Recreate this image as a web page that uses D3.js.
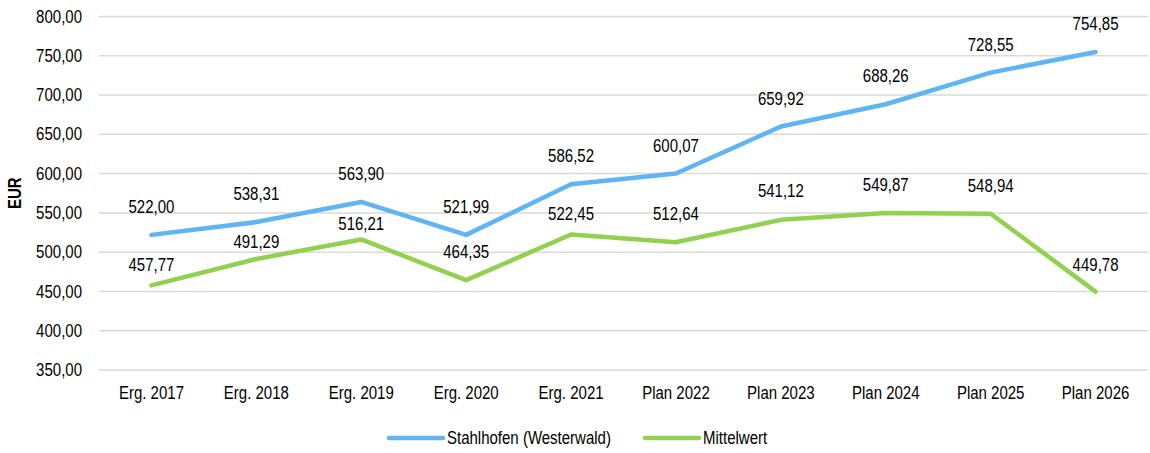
<!DOCTYPE html>
<html>
<head>
<meta charset="utf-8">
<script src="https://cdn.jsdelivr.net/npm/d3@7"></script>
<style>
  body { margin: 0; background: #fff; }
  svg { display: block; font-family: "Liberation Sans", Arial, sans-serif; }
</style>
</head>
<body>
<div id="container"></div>
<script>
// chart data
const categories = ["Erg. 2017", "Erg. 2018", "Erg. 2019", "Erg. 2020", "Erg. 2021",
  "Plan 2022", "Plan 2023", "Plan 2024", "Plan 2025", "Plan 2026"];
const stahlhofen = [522.00, 538.31, 563.90, 521.99, 586.52, 600.07, 659.92, 688.26, 728.55, 754.85];
const mittelwert = [457.77, 491.29, 516.21, 464.35, 522.45, 512.64, 541.12, 549.87, 548.94, 449.78];
const yTicks = [350, 400, 450, 500, 550, 600, 650, 700, 750, 800];
const seriesNames = ["Stahlhofen (Westerwald)", "Mittelwert"];

const width = 1150;
const height = 453;
const margin = { top: 16.5, right: 2, bottom: 83, left: 99 };

const fontSize = 17.5;
const squeeze = 0.857; // the original text is a bit narrower than Arial

const colors = ["#5fb4f4", "#92d050"];
// how far above the point each label sits (some green labels were nudged down in the original)
const labelLift = [
  [28, 28, 28, 28, 28, 28, 28, 28, 28, 28],
  [20, 17.5, 16, 28, 21, 28, 29, 28, 28, 27]
];

const fmt = v => d3.format(".2f")(v).replace(".", ",");

const svg = d3.select("#container")
  .append("svg")
  .attr("width", width)
  .attr("height", height);

const x = d3.scaleBand()
  .domain(categories)
  .range([margin.left, width - margin.right]);

const y = d3.scaleLinear()
  .domain([350, 800])
  .range([height - margin.bottom, margin.top]);

// gridlines
svg.append("g")
  .selectAll("line")
  .data(yTicks)
  .join("line")
  .attr("x1", margin.left)
  .attr("x2", width - margin.right)
  .attr("y1", d => y(d))
  .attr("y2", d => y(d))
  .attr("stroke", "#d9d9d9")
  .attr("stroke-width", 1.5);

// y axis labels
svg.append("g")
  .attr("transform", `translate(${margin.left}, 0)`)
  .call(d3.axisLeft(y).tickValues(yTicks).tickFormat(fmt).tickSize(0).tickPadding(17))
  .call(g => g.select(".domain").remove())
  .call(g => g.selectAll("text").attr("font-size", fontSize).attr("fill", "#000")
    .attr("font-family", "Liberation Sans, Arial, sans-serif"));

// x axis labels
svg.append("g")
  .attr("transform", `translate(0, ${height - margin.bottom})`)
  .call(d3.axisBottom(x).tickSize(0).tickPadding(16.5))
  .call(g => g.select(".domain").remove())
  .call(g => g.selectAll("text").attr("font-size", fontSize).attr("fill", "#000")
    .attr("font-family", "Liberation Sans, Arial, sans-serif"));

// axis title
svg.append("text")
  .attr("transform", `translate(21, ${(y(350) + y(800)) / 2}) rotate(-90)`)
  .attr("text-anchor", "middle")
  .attr("font-size", fontSize)
  .attr("font-weight", "bold")
  .text("EUR");

const line = d3.line()
  .x((d, i) => x(categories[i]) + x.bandwidth() / 2)
  .y(d => y(d));

[stahlhofen, mittelwert].forEach((values, s) => {
  svg.append("path")
    .datum(values)
    .attr("fill", "none")
    .attr("stroke", colors[s])
    .attr("stroke-width", 4.5)
    .attr("stroke-linejoin", "round")
    .attr("stroke-linecap", "round")
    .attr("d", line);
});

// data labels (drawn after both lines)
[stahlhofen, mittelwert].forEach((values, s) => {
  svg.append("g")
    .selectAll("text")
    .data(values)
    .join("text")
    .attr("x", (d, i) => x(categories[i]) + x.bandwidth() / 2)
    .attr("y", (d, i) => y(d) - labelLift[s][i])
    .attr("dy", "0.35em")
    .attr("text-anchor", "middle")
    .attr("font-size", fontSize)
    .attr("fill", "#000")
    .text(fmt);
});

// legend
const legendX = [389, 645];
const legendY = 438;
const legend = svg.append("g")
  .selectAll("g")
  .data(seriesNames)
  .join("g")
  .attr("transform", (d, i) => `translate(${legendX[i]}, ${legendY})`);

legend.append("line")
  .attr("x1", 0)
  .attr("x2", 54)
  .attr("stroke", (d, i) => colors[i])
  .attr("stroke-width", 4.5)
  .attr("stroke-linecap", "round");

legend.append("text")
  .attr("x", 58)
  .attr("dy", "0.35em")
  .attr("font-size", fontSize)
  .text(d => d);

// narrow all text horizontally
svg.selectAll("text").each(function () {
  const len = this.getComputedTextLength();
  this.setAttribute("textLength", len * squeeze);
  this.setAttribute("lengthAdjust", "spacingAndGlyphs");
});
</script>
</body>
</html>
